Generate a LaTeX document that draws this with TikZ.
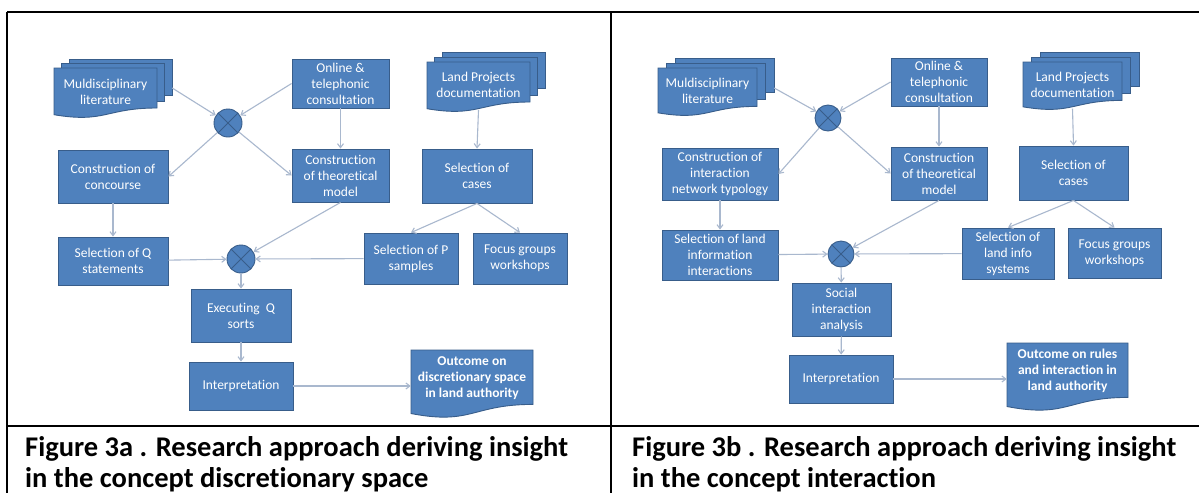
\documentclass[tikz,border=0pt]{standalone}
\usepackage{fontspec}
\setmainfont{Carlito}[Ligatures=NoCommon]
\usetikzlibrary{arrows.meta}

\definecolor{boxfill}{HTML}{4F81BD}
\definecolor{boxline}{HTML}{385D8A}
\definecolor{linkcol}{HTML}{A9B8CE}

\tikzset{
  stepbox/.style={draw=boxline, fill=boxfill, line width=0.9pt, text=white,
    align=center, font=\fontsize{13.5}{16}\selectfont, inner sep=2pt},
  doctext/.style={text=white, align=center, inner sep=0pt,
    font=\fontsize{13.5}{16}\selectfont},
  outtext/.style={doctext, font=\bfseries\fontsize{13.5}{16}\selectfont},
  docfill/.style={draw=boxline, fill=boxfill, line width=0.9pt},
  joint/.style={circle, draw=boxline, fill=boxfill, line width=0.9pt,
    minimum size=#1, inner sep=0pt,
    path picture={\draw[boxline, line width=0.9pt]
      (path picture bounding box.north west) -- (path picture bounding box.south east)
      (path picture bounding box.north east) -- (path picture bounding box.south west);}},
  joint/.default=28pt,
  link/.style={draw=linkcol, line width=1.1pt, -{Straight Barb[length=4pt,width=6pt]}},
  tableline/.style={draw=black, line width=1.6pt},
  captext/.style={anchor=base west, inner sep=0pt,
    font=\bfseries\fontsize{28.5}{32}\selectfont},
}

% document shape with a wavy bottom: left x, top y, right x, height
\newcommand\docshape[4]{%
  \path[docfill] (#1,#2) -- (#3,#2) -- (#3,{#2+0.8*#4})
    .. controls ({(#1+#3)/2},{#2+0.8*#4}) and ({(#1+#3)/2},{#2+1.1075*#4})
    .. (#1,{#2+0.934*#4}) -- cycle;}

% stacked documents: front sheet plus two sheets behind it, offset by dx,dy
\newcommand\multidoc[6]{% x1, y1, x2, height, dx, dy
  \path[docfill] ({#1+2*#5},{#2-2*#6}) rectangle ({#3+2*#5},{#2+0.8*#4-2*#6-4});
  \path[docfill] ({#1+#5},{#2-#6}) rectangle ({#3+#5},{#2+0.8*#4-#6-2});
  \docshape{#1}{#2}{#3}{#4}}

\begin{document}
\begin{tikzpicture}[x=1pt, y=-1pt]
\fill[white] (0,0) rectangle (1199,493);
\useasboundingbox (0,0) rectangle (1199,493);

% ---------------- table frame ----------------
\draw[tableline] (7,12) -- (1199,12);
\draw[tableline] (7,12) -- (7,493);
\draw[tableline] (611,12) -- (611,493);
\draw[tableline] (7,426) -- (1199,426);

% ---------------- Figure 3a ----------------
\multidoc{54}{68}{157}{50}{7.5}{4.5}
\node[doctext, minimum width=103pt, minimum height=50pt] (mulA) at (105.5,92)
  {Muldisciplinary\\literature};
\multidoc{427}{62}{530}{50}{7.5}{5}
\node[doctext, minimum width=103pt, minimum height=50pt] (landA) at (478.5,85)
  {Land Projects\\documentation};

\node[stepbox, minimum width=97pt, minimum height=49pt] (onlineA) at (340.5,83.5)
  {Online \&\\telephonic\\consultation};
\node[joint] (jA1) at (228,123) {};
\node[stepbox, minimum width=110pt, minimum height=53pt] (concA) at (113,176.5)
  {Construction of\\concourse};
\node[stepbox, minimum width=97pt, minimum height=53pt] (theoA) at (340.5,175.5)
  {Construction\\of theoretical\\model};
\node[stepbox, minimum width=110pt, minimum height=54pt] (casesA) at (477,176)
  {Selection of\\cases};
\node[stepbox, minimum width=110pt, minimum height=48pt] (selqA) at (113,261)
  {Selection of Q\\statements};
\node[joint] (jA2) at (241,259) {};
\node[stepbox, minimum width=94pt, minimum height=51pt] (selpA) at (411,258.5)
  {Selection of P\\samples};
\node[stepbox, minimum width=94pt, minimum height=51pt] (focusA) at (520,258.5)
  {Focus groups\\workshops};
\node[stepbox, minimum width=100pt, minimum height=53pt] (execA) at (241,315.5)
  {Executing~~Q\\sorts};
\node[stepbox, minimum width=104pt, minimum height=48pt] (interpA) at (241,386)
  {Interpretation};
\docshape{411}{350}{533}{68}
\node[outtext, minimum width=122pt, minimum height=50pt] (outA) at (472,378)
  {Outcome on\\discretionary space\\in land authority};

\draw[link] ([shift={(15,-4)}]mulA.east) -- (jA1);
\draw[link] (onlineA.west) -- (jA1);
\draw[link] (jA1) -- (concA.east);
\draw[link] (jA1) -- (theoA.west);
\draw[link] (onlineA) -- (theoA);
\draw[link] (concA) -- (selqA);
\draw[link] (landA.south) -- (casesA.north);
\draw[link] (casesA.south) -- (selpA.north);
\draw[link] (casesA.south) -- (focusA.north);
\draw[link] (theoA.south) -- (jA2);
\draw[link] (selqA) -- (jA2);
\draw[link] (selpA) -- (jA2);
\draw[link] (jA2) -- (execA);
\draw[link] (execA) -- (interpA);
\draw[link] (interpA.east) -- (interpA.east -| outA.west);

% ---------------- Figure 3b ----------------
\multidoc{658}{68}{757}{48}{8.5}{5}
\node[doctext, minimum width=99pt, minimum height=48pt] (mulB) at (707.5,91)
  {Muldisciplinary\\literature};
\multidoc{1023}{62}{1122}{48}{8.5}{5}
\node[doctext, minimum width=99pt, minimum height=48pt] (landB) at (1072.5,84.5)
  {Land Projects\\documentation};

\node[stepbox, minimum width=96pt, minimum height=48pt] (onlineB) at (939,82)
  {Online \&\\telephonic\\consultation};
\node[joint=26pt] (jB1) at (828,118) {};
\node[stepbox, minimum width=116pt, minimum height=52pt] (netB) at (720,174)
  {Construction of\\interaction\\network typology};
\node[stepbox, minimum width=96pt, minimum height=53pt] (theoB) at (939,173.5)
  {Construction\\of theoretical\\model};
\node[stepbox, minimum width=109pt, minimum height=54pt] (casesB) at (1073.5,173)
  {Selection of\\cases};
\node[stepbox, minimum width=116pt, minimum height=50pt] (sellandB) at (720,255)
  {Selection of land\\information\\interactions};
\node[joint=26pt] (jB2) at (841,254) {};
\node[stepbox, minimum width=92pt, minimum height=51pt] (selinfoB) at (1008,253.5)
  {Selection of\\land info\\systems};
\node[stepbox, minimum width=93pt, minimum height=50pt] (focusB) at (1114.5,253)
  {Focus groups\\workshops};
\node[stepbox, minimum width=99pt, minimum height=53pt] (socialB) at (841.5,309.5)
  {Social\\interaction\\analysis};
\node[stepbox, minimum width=104pt, minimum height=48pt] (interpB) at (841,379)
  {Interpretation};
\docshape{1007}{343}{1128}{68}
\node[outtext, minimum width=121pt, minimum height=50pt] (outB) at (1067.5,371)
  {Outcome on rules\\and interaction in\\land authority};

\draw[link] ([shift={(17,-3)}]mulB.east) -- (jB1);
\draw[link] (onlineB.west) -- (jB1);
\draw[link] (jB1) -- (netB.east);
\draw[link] (jB1) -- (theoB.west);
\draw[link] (onlineB) -- (theoB);
\draw[link] (netB) -- (sellandB);
\draw[link] (landB.south) -- (casesB.north);
\draw[link] (casesB.south) -- (selinfoB.north);
\draw[link] (casesB.south) -- (focusB.north);
\draw[link] (theoB.south) -- (jB2);
\draw[link] (sellandB) -- (jB2);
\draw[link] (selinfoB) -- (jB2);
\draw[link] (jB2) -- (socialB);
\draw[link] (socialB) -- (interpB);
\draw[link] (interpB.east) -- (interpB.east -| outB.west);

% ---------------- captions ----------------
\node[captext] (capA1) at (25,456) {Figure 3a . Research approach deriving insight};
\node[captext] (capA2) at (25,487) {in the concept discretionary space};
\node[captext] (capB1) at (632,456) {Figure 3b . Research approach deriving insight};
\node[captext] (capB2) at (632,487) {in the concept interaction};
\end{tikzpicture}
\end{document}
